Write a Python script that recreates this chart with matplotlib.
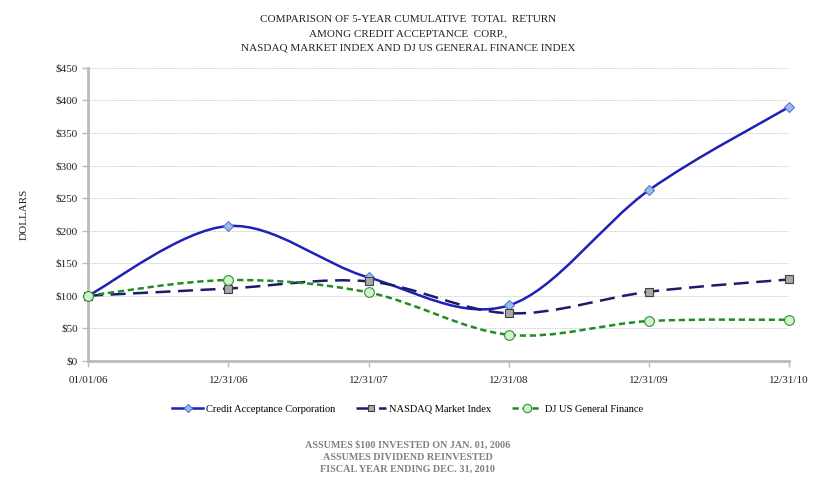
import matplotlib.pyplot as plt
from matplotlib.path import Path
from matplotlib.patches import PathPatch
from matplotlib.lines import Line2D

plt.rcParams['font.family'] = ['Liberation Serif', 'DejaVu Serif']

dates = ['01/01/06', '12/31/06', '12/31/07', '12/31/08', '12/31/09', '12/31/10']
cac = [100, 207, 128, 85, 262, 390]
nasdaq = [100, 111, 122, 73, 106, 125]
djgf = [100, 124, 105, 40, 61, 63]
yticks = [0, 50, 100, 150, 200, 250, 300, 350, 400, 450]

title_lines = ['COMPARISON OF 5-YEAR CUMULATIVE  TOTAL  RETURN',
               'AMONG CREDIT ACCEPTANCE  CORP.,',
               'NASDAQ MARKET INDEX AND DJ US GENERAL FINANCE INDEX']
note_lines = ['ASSUMES $100 INVESTED ON JAN. 01, 2006',
              'ASSUMES DIVIDEND REINVESTED',
              'FISCAL YEAR ENDING DEC. 31, 2010']


def smooth_path(xs, ys):
    # Excel-style smoothed line: cubic bezier with control points at 1/6 of neighbour spread
    n = len(xs)
    verts = [(xs[0], ys[0])]
    codes = [Path.MOVETO]
    for i in range(n - 1):
        x0, y0 = xs[max(i - 1, 0)], ys[max(i - 1, 0)]
        x1, y1 = xs[i], ys[i]
        x2, y2 = xs[i + 1], ys[i + 1]
        x3, y3 = xs[min(i + 2, n - 1)], ys[min(i + 2, n - 1)]
        c1 = (x1 + (x2 - x0) / 6, y1 + (y2 - y0) / 6)
        c2 = (x2 - (x3 - x1) / 6, y2 - (y3 - y1) / 6)
        verts += [c1, c2, (x2, y2)]
        codes += [Path.CURVE4] * 3
    return Path(verts, codes)


fig = plt.figure(figsize=(8.16, 4.99), dpi=100)
ax = fig.add_axes([0.108, 0.277, 0.859, 0.587])

xs = list(range(len(dates)))
series = [
    (cac, 'Credit Acceptance Corporation', '#2020B8', '-', 'D', '#99BBEE', '#5577CC', 5),
    (nasdaq, 'NASDAQ Market Index', '#1C1C6C', (0, (6, 3)), 's', '#A8A8A8', '#404040', 6),
    (djgf, 'DJ US General Finance', '#228B22', (0, (2.5, 1.5)), 'o', '#CCF5CC', '#3A8A3A', 7),
]
handles = []
for vals, label, col, ls, mk, mfc, mec, ms in series:
    patch = PathPatch(smooth_path(xs, vals), facecolor='none', edgecolor=col,
                      lw=1.8, linestyle=ls, zorder=3)
    ax.add_patch(patch)
    ax.plot(xs, vals, linestyle='none', marker=mk, markersize=ms,
            markerfacecolor=mfc, markeredgecolor=mec, markeredgewidth=0.8,
            zorder=4, clip_on=False)
    handles.append(Line2D([], [], color=col, lw=1.8, linestyle=ls, marker=mk,
                          markersize=ms - 1, markerfacecolor=mfc, markeredgecolor=mec,
                          markeredgewidth=0.8, label=label))

ax.set_xlim(0, len(dates) - 1)
ax.set_ylim(0, 450)
ax.set_xticks(xs)
ax.set_xticklabels(dates, fontsize=8, color='#222222')
ax.set_yticks(yticks)
ax.set_yticklabels(['$%d' % v for v in yticks], fontsize=8, color='#222222')
ax.grid(axis='y', color='#BBBBBB', linestyle=(0, (1, 1)), lw=0.6)
ax.set_axisbelow(True)
for s in ['top', 'right']:
    ax.spines[s].set_visible(False)
ax.spines['left'].set_color('#BBBBBB')
ax.spines['left'].set_linewidth(2)
ax.spines['bottom'].set_color('#BBBBBB')
ax.spines['bottom'].set_linewidth(2)
ax.tick_params(axis='both', colors='#BBBBBB', labelcolor='#222222', length=4, width=1)
ax.tick_params(axis='x', pad=7)
ax.set_ylabel('DOLLARS', fontsize=8, color='#222222', labelpad=19)

for i, line in enumerate(title_lines):
    fig.text(0.5, 0.96 - i * 0.028, line, ha='center', va='center',
             fontsize=8, color='#222222')

fig.legend(handles=handles, loc='center', bbox_to_anchor=(0.5, 0.18), ncol=3,
           frameon=False, fontsize=7.5, handlelength=2.9, handletextpad=0.3,
           columnspacing=2.0)

for i, line in enumerate(note_lines):
    fig.text(0.5, 0.108 - i * 0.024, line, ha='center', va='center',
             fontsize=7.3, color='#808080', fontweight='bold')

fig.savefig('out.png', dpi=100)
